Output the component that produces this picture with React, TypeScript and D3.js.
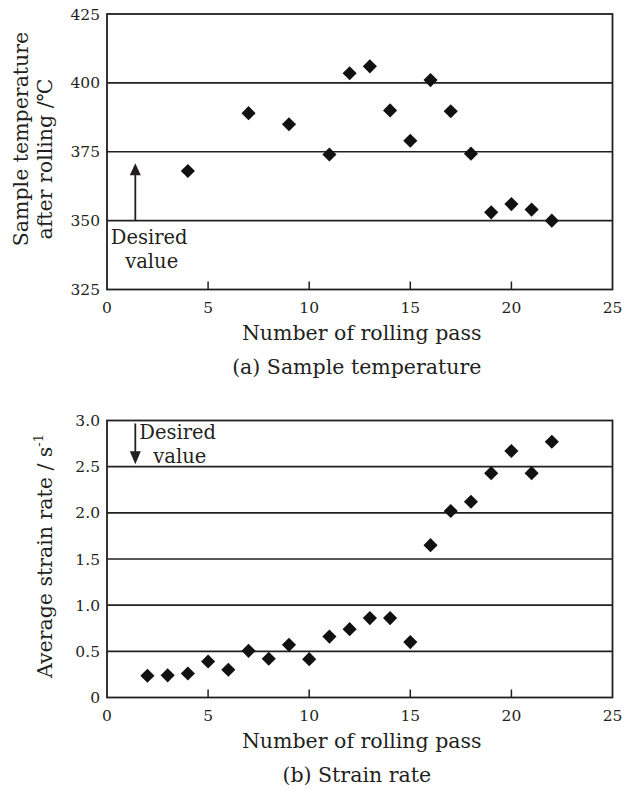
import React from "react";
import * as d3 from "d3";

// ---- data ----
const passA = [4, 7, 9, 11, 12, 13, 14, 15, 16, 17, 18, 19, 20, 21, 22];
const tempA = [368, 389, 385, 374, 403.5, 406, 390, 379, 401, 389.7, 374.3, 353, 356, 354, 350];

const passB = [2, 3, 4, 5, 6, 7, 8, 9, 10, 11, 12, 13, 14, 15, 16, 17, 18, 19, 20, 21, 22];
const rateB = [0.235, 0.24, 0.26, 0.39, 0.3, 0.505, 0.42, 0.57, 0.415, 0.66, 0.74, 0.86, 0.86, 0.6, 1.65, 2.02, 2.12, 2.43, 2.67, 2.43, 2.77];

const xTicks = [0, 5, 10, 15, 20, 25];
const yTicksA = [325, 350, 375, 400, 425];
const yTicksB = [0, 0.5, 1.0, 1.5, 2.0, 2.5, 3.0];
const yTickLabelsB = ["0", "0.5", "1.0", "1.5", "2.0", "2.5", "3.0"];

const INK = "#231f20";
const FONT = "'DejaVu Serif', 'Liberation Serif', serif";

const diamond = d3.symbol().type(d3.symbolSquare).size(100)() as string;

type PanelProps = {
  top: number;
  bottom: number;
  yDomain: [number, number];
  yTicks: number[];
  yLabels: string[];
  xs: number[];
  ys: number[];
  caption: string;
  children?: (x: d3.ScaleLinear<number, number>, y: d3.ScaleLinear<number, number>) => React.ReactNode;
  yTitle: React.ReactNode;
};

function Panel({ top, bottom, yDomain, yTicks, yLabels, xs, ys, caption, children, yTitle }: PanelProps) {
  const left = 107;
  const right = 612.5;
  const x = d3.scaleLinear().domain([0, 25]).range([left, right]);
  const y = d3.scaleLinear().domain(yDomain).range([bottom, top]);
  return (
    <g>
      {yTicks.slice(1, -1).map((t) => (
        <line key={"g" + t} x1={left} x2={right} y1={y(t)} y2={y(t)} stroke={INK} strokeWidth={1.6} />
      ))}
      {xTicks.slice(1, -1).map((t) => (
        <line key={"xt" + t} x1={x(t)} x2={x(t)} y1={bottom} y2={bottom - 8} stroke={INK} strokeWidth={1.5} />
      ))}
      <rect x={left} y={top} width={right - left} height={bottom - top} fill="none" stroke={INK} strokeWidth={1.8} />
      {xTicks.map((t) => (
        <text key={"xl" + t} x={x(t)} y={bottom + 23.5} textAnchor="middle" fontSize={15.5} fontFamily={FONT} fill={INK}>
          {t}
        </text>
      ))}
      {yTicks.map((t, i) => (
        <text key={"yl" + t} x={left - 7} y={y(t) + 5.5} textAnchor="end" fontSize={15.5} fontFamily={FONT} fill={INK}>
          {yLabels[i]}
        </text>
      ))}
      {xs.map((v, i) => (
        <path key={"p" + i} d={diamond} transform={`translate(${x(v)},${y(ys[i])}) rotate(45)`} fill="#111" />
      ))}
      {children && children(x, y)}
      <text x={(left + right) / 2 + 2} y={bottom + 50.5} textAnchor="middle" fontSize={20.5} fontFamily={FONT} fill={INK}>
        Number of rolling pass
      </text>
      <text x={(left + right) / 2 - 3} y={bottom + 84.5} textAnchor="middle" fontSize={20.5} fontFamily={FONT} fill={INK}>
        {caption}
      </text>
      {yTitle}
    </g>
  );
}

export default function App() {
  return (
    <svg
      width={629}
      height={790}
      style={{ position: "absolute", left: 0, top: 0, background: "#fff" }}
      xmlns="http://www.w3.org/2000/svg"
    >
      <rect x={0} y={0} width={629} height={790} fill="#fff" />
      <Panel
        top={14}
        bottom={289.5}
        yDomain={[325, 425]}
        yTicks={yTicksA}
        yLabels={yTicksA.map(String)}
        xs={passA}
        ys={tempA}
        caption="(a) Sample temperature"
        yTitle={
          <g fontFamily={FONT} fontSize={20.5} fill={INK} textAnchor="middle">
            <text transform="translate(28,139) rotate(-90)">Sample temperature</text>
            <text transform="translate(51.5,159) rotate(-90)">after rolling /℃</text>
          </g>
        }
      >
        {(x, y) => {
          const ax = x(1.4);
          const y0 = y(350);
          const tip = y(370.8);
          return (
            <g>
              <line x1={ax} x2={ax} y1={y0} y2={tip + 10} stroke={INK} strokeWidth={1.8} />
              <path d={`M${ax},${tip} L${ax - 5.5},${tip + 12} L${ax + 5.5},${tip + 12} Z`} fill={INK} />
              <text x={x(0.19)} y={y0 + 23.5} fontSize={19.5} fontFamily={FONT} fill={INK}>Desired</text>
              <text x={x(0.9)} y={y0 + 47} fontSize={19.5} fontFamily={FONT} fill={INK}>value</text>
            </g>
          );
        }}
      </Panel>
      <Panel
        top={420.5}
        bottom={697.5}
        yDomain={[0, 3]}
        yTicks={yTicksB}
        yLabels={yTickLabelsB}
        xs={passB}
        ys={rateB}
        caption="(b) Strain rate"
        yTitle={
          <g fontFamily={FONT} fontSize={20.5} fill={INK}>
            <text transform="translate(52,556) rotate(-90)" textAnchor="middle">
              Average strain rate / s<tspan fontSize={13} dy={-9}>-1</tspan>
            </text>
          </g>
        }
      >
        {(x, y) => {
          const ax = x(1.4);
          const y0 = y(3.0) + 3;
          const tip = y(2.5) - 2.5;
          return (
            <g>
              <line x1={ax} x2={ax} y1={y0} y2={tip - 10} stroke={INK} strokeWidth={1.8} />
              <path d={`M${ax},${tip} L${ax - 5.5},${tip - 13} L${ax + 5.5},${tip - 13} Z`} fill={INK} />
              <text x={ax + 4} y={y(3.0) + 18.5} fontSize={19.5} fontFamily={FONT} fill={INK}>Desired</text>
              <text x={ax + 18} y={y(3.0) + 42} fontSize={19.5} fontFamily={FONT} fill={INK}>value</text>
            </g>
          );
        }}
      </Panel>
    </svg>
  );
}
